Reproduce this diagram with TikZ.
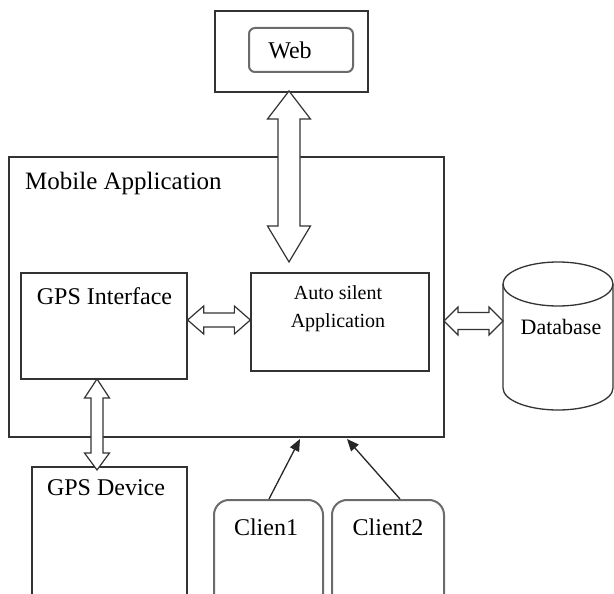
\documentclass[tikz,border=0pt]{standalone}
\usepackage{fontspec}
\setmainfont{Liberation Serif}
\usetikzlibrary{calc,arrows.meta}

\tikzset{
  plainbox/.style={draw=black!80, line width=1.3pt, rectangle, inner sep=0pt},
  softbox/.style={draw=black!58, line width=2pt, rectangle, rounded corners=#1, inner sep=0pt},
  softbox/.default=6pt,
  blockarrow/.style={draw=black!80, line width=1.2pt, fill=white, line join=miter},
  pointer/.style={draw=black!85, line width=1.3pt, -{Triangle[length=12pt,width=10pt]}},
  lbl/.style={font=\fontsize{24}{28}\selectfont, inner sep=0pt}
}

% vertical double block arrow: top tip, bottom tip, shaft half, head half, top head, bottom head
\newcommand\vblock[6]{%
  \draw[blockarrow] (#1) -- ($(#1)+(#4,#5)$) -- ($(#1)+(#3,#5)$) -- ($(#2)+(#3,-#6)$)
    -- ($(#2)+(#4,-#6)$) -- (#2) -- ($(#2)+(-#4,-#6)$) -- ($(#2)+(-#3,-#6)$)
    -- ($(#1)+(-#3,#5)$) -- ($(#1)+(-#4,#5)$) -- cycle;}
% horizontal double block arrow: left tip, right tip, shaft half, head half, head length
\newcommand\hblock[5]{%
  \draw[blockarrow] (#1) -- ($(#1)+(#5,-#4)$) -- ($(#1)+(#5,-#3)$) -- ($(#2)+(-#5,-#3)$)
    -- ($(#2)+(-#5,-#4)$) -- (#2) -- ($(#2)+(-#5,#4)$) -- ($(#2)+(-#5,#3)$)
    -- ($(#1)+(#5,#3)$) -- ($(#1)+(#5,#4)$) -- cycle;}

\begin{document}
\begin{tikzpicture}[x=1pt, y=-1pt]
  \useasboundingbox (0,0) rectangle (614,594);
  \clip (0,0) rectangle (614,594);
  \fill[white] (0,0) rectangle (614,594);

  % Web server
  \node[plainbox, minimum width=153pt, minimum height=81pt] (webouter) at (291.5,51.5) {};
  \node[softbox, minimum width=104pt, minimum height=44pt] (web) at (301,50) {};
  \node[lbl] (webtext) at (290,50) {Web};

  % Mobile application and its parts
  \node[plainbox, minimum width=435pt, minimum height=280pt] (mobile) at (226.5,297) {};
  \node[font=\fontsize{25}{29}\selectfont, inner sep=0pt, anchor=west] (mobiletitle) at (25,183) {Mobile Application};
  \node[plainbox, minimum width=166pt, minimum height=106pt] (gpsif) at (104,326) {};
  \node[lbl] (gpsiftext) at (104.5,296) {GPS Interface};
  \node[plainbox, minimum width=178pt, minimum height=98pt] (auto) at (340,322) {};
  \node[align=center, font=\fontsize{20}{28}\selectfont, inner sep=0pt] (autotext) at (338,309)
    {Auto silent\\Application};

  % Database cylinder
  \node[minimum width=110pt, minimum height=148pt, inner sep=0pt] (db) at (558,336) {};
  \draw[draw=black!80, line width=1.3pt, fill=white]
    (503,284) -- (503,388) arc[start angle=180, end angle=0, x radius=55, y radius=22]
    -- (613,284);
  \draw[draw=black!80, line width=1.3pt] (558,284) ellipse[x radius=55, y radius=22];
  \node[font=\fontsize{22}{26}\selectfont, inner sep=0pt] (dbtext) at (561,327) {Database};

  % GPS device and clients
  \draw[plainbox] (32,610) |- (187,467) -- (187,610);
  \node[minimum width=155pt, minimum height=140pt, inner sep=0pt] (gpsdev) at (109.5,537) {};
  \node[lbl] (gpsdevtext) at (106,488) {GPS Device};
  \node[softbox=15pt, minimum width=109pt, minimum height=110pt] (c1) at (268.5,555) {};
  \node[lbl] (c1text) at (266,527) {Clien1};
  \node[softbox=15pt, minimum width=112pt, minimum height=110pt] (c2) at (388,555) {};
  \node[lbl] (c2text) at (388,527) {Client2};

  % double block arrows
  \coordinate (webtip) at (289,91);
  \coordinate (autotip) at (289,262);
  \vblock{webtip}{autotip}{11}{21.5}{28}{36}
  \coordinate (gpsiftip) at ($(gpsif.east)+(0,-6)$);
  \coordinate (autoltip) at ($(auto.west)+(0,-2)$);
  \hblock{gpsiftip}{autoltip}{7}{14}{16}
  \coordinate (mobiletip) at (444,321);
  \coordinate (dbtip) at (503,321);
  \hblock{mobiletip}{dbtip}{8.5}{14}{14}
  \coordinate (gpsbtip) at (97,379);
  \coordinate (devtip) at (97,470);
  \vblock{gpsbtip}{devtip}{6}{12.5}{19}{17}

  % clients connecting to the application
  \draw[pointer] (c1.north -| 269,0) -- (300,439);
  \draw[pointer] (c2.north -| 400,0) -- (347,439);
\end{tikzpicture}
\end{document}
